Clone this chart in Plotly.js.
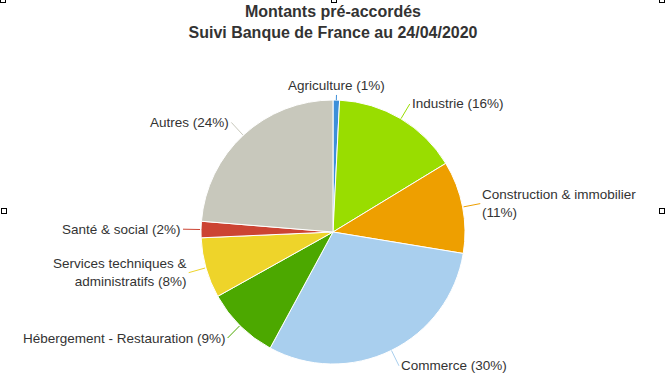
<!DOCTYPE html>
<html>
<head>
<meta charset="utf-8">
<script src="https://cdn.plot.ly/plotly-3.0.1.min.js"></script>
<style>
  html, body { margin: 0; padding: 0; background: #fff; }
  #chart { width: 665px; height: 390px; position: relative; }
  .handle { position: absolute; width: 4px; height: 4px; border: 1px solid #000; background: #fff; z-index: 10; }
</style>
</head>
<body>
<div id="chart"></div>
<script>
// ---- data ----
const categories = ["Agriculture", "Industrie", "Construction & immobilier", "Commerce",
  "Hébergement - Restauration", "Services techniques & administratifs", "Santé & social", "Autres"];
const values = [0.8, 15.5, 11.3, 30.3, 9.0, 7.4, 2.0, 23.7];
const percentLabels = [1, 16, 11, 30, 9, 8, 2, 24];
const labelTexts = ["Agriculture (1%)", "Industrie (16%)", "Construction & immobilier<br>(11%)",
  "Commerce (30%)", "Hébergement - Restauration (9%)", "Services techniques &<br>administratifs (8%)",
  "Santé & social (2%)", "Autres (24%)"];
const colors = ["#3d8fd9", "#99dd00", "#ee9f00", "#a9cfee", "#4ca800", "#eed42a", "#cc4433", "#c8c8bc"];

// ---- label annotations derived from slice angles ----
const total = values.reduce((a, b) => a + b, 0);
const leader = 17;
const annotations = [];
let cum = 0;
values.forEach((v, i) => {
  const th = 2 * Math.PI * (cum + v / 2) / total;
  cum += v;
  const s = Math.sin(th), c = Math.cos(th);
  const centered = Math.abs(s) < 0.1;
  const len = centered ? leader * 0.3 : leader;
  annotations.push({
    xref: "paper", yref: "paper",
    x: 0.5 + 0.5 * s, y: 0.5 + 0.5 * c,
    ax: len * s, ay: -len * c,
    text: labelTexts[i],
    showarrow: true, arrowhead: 0, arrowwidth: 1, arrowcolor: colors[i],
    standoff: 0, startstandoff: 0,
    xanchor: centered ? "center" : (s > 0 ? "left" : "right"),
    yanchor: centered ? (c > 0 ? "bottom" : "top") : "middle",
    align: s > 0 ? "left" : "right",
    borderpad: 1,
    font: { family: "Liberation Sans, Arial, sans-serif", size: 13.5, color: "#333333" }
  });
});

const trace = {
  type: "pie",
  labels: categories,
  values: values,
  sort: false,
  direction: "clockwise",
  rotation: 0,
  textinfo: "none",
  hoverinfo: "none",
  marker: { colors: colors, line: { color: "#ffffff", width: 1 } },
  showlegend: false
};

const layout = {
  width: 665, height: 390,
  margin: { l: 200, r: 199, t: 100, b: 26 },
  paper_bgcolor: "#ffffff",
  plot_bgcolor: "#ffffff",
  title: {
    text: "<b>Montants pré-accordés<br>Suivi Banque de France au 24/04/2020</b>",
    x: 0.5, xref: "paper", xanchor: "center",
    y: 1 - 17 / 390, yref: "container", yanchor: "top",
    font: { family: "Liberation Sans, Arial, sans-serif", size: 16, color: "#333333" }
  },
  annotations: annotations,
  showlegend: false
};

Plotly.newPlot("chart", [trace], layout, { displayModeBar: false, staticPlot: true });

// selection handles on the frame
[[0, -3], [331, -3], [659, -3], [1, 208], [659, 208]].forEach(p => {
  const d = document.createElement("div");
  d.className = "handle";
  d.style.left = p[0] + "px";
  d.style.top = p[1] + "px";
  document.getElementById("chart").appendChild(d);
});
</script>
</body>
</html>
